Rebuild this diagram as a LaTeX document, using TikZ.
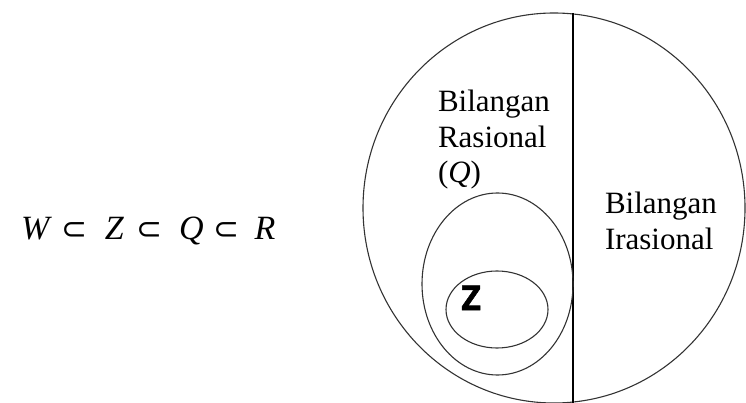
\documentclass[tikz,border=0pt]{standalone}
\usepackage{fontspec}
\setmainfont{Liberation Serif}
\newfontfamily\symfnt{DejaVu Sans}
\newfontfamily\zfnt[BoldFeatures={FakeBold=1.5}]{Open Sans}
\newcommand{\subs}{{\symfnt\fontsize{31}{32}\selectfont ⊂}}
\tikzset{
  setline/.style={draw=black!80, line width=1.1pt},
  divline/.style={draw=black, line width=1.3pt},
  lbl/.style={inner sep=0pt, outer sep=0pt, align=left, font=\fontsize{31}{35.5}\selectfont},
  rel/.style={inner sep=0pt, outer sep=0pt, font=\fontsize{34}{36}\selectfont}
}
\begin{document}
\begin{tikzpicture}[x=1pt,y=-1pt]
\useasboundingbox (0,0) rectangle (746,403);
% outer set R
\draw[setline] (554,208) ellipse [x radius=191, y radius=195];
% divider rational / irrational
\coordinate (top) at (573,13);
\coordinate (bot) at (573,403);
\draw[divline] (top) -- (bot);
% Z and W sets
\draw[setline] (497.5,284) ellipse [x radius=75.5, y radius=91];
\draw[setline] (497,309.5) ellipse [x radius=51, y radius=38.5];
% labels
\node[lbl, anchor=north west] (rasional) at (438,90) {Bilangan\\Rasional\\(\textit{Q})};
\node[lbl, anchor=north west] (irasional) at (605,192) {Bilangan\\Irasional};
\node[inner sep=0pt, anchor=base west, font=\zfnt\bfseries\fontsize{34}{40}\selectfont] (zlbl) at (461,310) {Z};
\node[rel, anchor=base west] (chain) at (21,240) {\textit{W}\hspace{10pt}\subs\hspace{17pt}\textit{Z}\hspace{12pt}\subs\hspace{17pt}\textit{Q}\hspace{10pt}\subs\hspace{15pt}\textit{R}};
\end{tikzpicture}
\end{document}
